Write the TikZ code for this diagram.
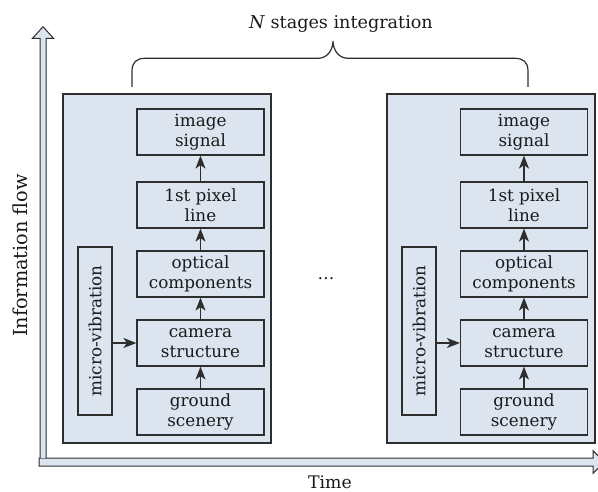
\documentclass[tikz,border=0pt]{standalone}
\usepackage{fontspec}
\setmainfont{DejaVu Serif}
\usetikzlibrary{arrows.meta}
\definecolor{boxfill}{HTML}{DCE4F0}
\definecolor{linec}{HTML}{2E2E2E}
\definecolor{textc}{HTML}{1A1A1A}
\begin{document}
\begin{tikzpicture}[x=1pt,y=-1pt,
  txt/.style={font=\fontsize{16.8}{19.5}\selectfont, text=textc},
  bigbox/.style={draw=linec, fill=boxfill, line width=1.3pt},
  innerbox/.style={draw=linec, fill=boxfill, line width=1.2pt, minimum width=127pt, minimum height=46pt, inner sep=0pt, align=center, txt},
  vibbox/.style={draw=linec, fill=boxfill, line width=1.2pt, minimum width=168pt, minimum height=34pt, inner sep=0pt, rotate=90, txt},
  arr/.style={draw=linec, line width=1.3pt, -{Stealth[length=13pt,width=10pt,inset=3.5pt]}},
  axis/.style={draw=linec, fill=boxfill, line width=1pt, line join=miter},
  bracestyle/.style={draw=linec, line width=1.2pt}
]
\useasboundingbox (0,0) rectangle (598,492);
\clip (0,0) rectangle (598,492);

% axes
\draw[axis] (39,458) -- (593,458) -- (593,450.5) -- (604,462) -- (593,473.5) -- (593,466) -- (39,466) -- cycle;
\draw[axis] (40,458) -- (40,38.3) -- (32.5,38.3) -- (43,26.7) -- (53.5,38.3) -- (46,38.3) -- (46,458);

\node[text=textc, font=\fontsize{19.3}{22}\selectfont, rotate=90] (yl) at (20,255.5) {Information flow};
\node[text=textc, font=\fontsize{17.3}{20}\selectfont, anchor=base] (xl) at (330,488) {Time};

% big boxes
\node[bigbox, minimum width=208pt, minimum height=349pt, inner sep=0pt] (L) at (167,268.5) {};
\node[bigbox, minimum width=208pt, minimum height=349pt, inner sep=0pt] (R) at (491,268.5) {};

% brace
\draw[bracestyle] (132,87) -- (132,71) .. controls (132,62) and (137,58.3) .. (145,58.3)
  -- (318,58.3) .. controls (328,58.3) and (333,49) .. (333,41)
  .. controls (333,49) and (338,58.3) .. (348,58.3)
  -- (515,58.3) .. controls (523,58.3) and (528,62) .. (528,71) -- (528,87);
\node[text=textc, font=\fontsize{17.6}{20}\selectfont] (title) at (341,24) {\textit{N} stages integration};
\node[txt] (dots) at (326,279) {…};

% left stage
\node[innerbox] (is1) at (200.5,132) {image\\signal};
\node[innerbox] (pl1) at (200.5,205) {1st pixel\\line};
\node[innerbox] (oc1) at (200.5,274) {optical\\components};
\node[innerbox] (cs1) at (200.5,343) {camera\\structure};
\node[innerbox] (gs1) at (200.5,412) {ground\\scenery};
\node[vibbox] (mv1) at (95,331) {micro-vibration};
\draw[arr] (gs1) -- (cs1);
\draw[arr] (cs1) -- (oc1);
\draw[arr] (oc1) -- (pl1);
\draw[arr] (pl1) -- (is1);
\draw[arr] (mv1.south |- cs1) -- (cs1.west);

% right stage
\node[innerbox] (is2) at (524,132) {image\\signal};
\node[innerbox] (pl2) at (524,205) {1st pixel\\line};
\node[innerbox] (oc2) at (524,274) {optical\\components};
\node[innerbox] (cs2) at (524,343) {camera\\structure};
\node[innerbox] (gs2) at (524,412) {ground\\scenery};
\node[vibbox] (mv2) at (419,331) {micro-vibration};
\draw[arr] (gs2) -- (cs2);
\draw[arr] (cs2) -- (oc2);
\draw[arr] (oc2) -- (pl2);
\draw[arr] (pl2) -- (is2);
\draw[arr] (mv2.south |- cs2) -- (cs2.west);
\end{tikzpicture}
\end{document}
